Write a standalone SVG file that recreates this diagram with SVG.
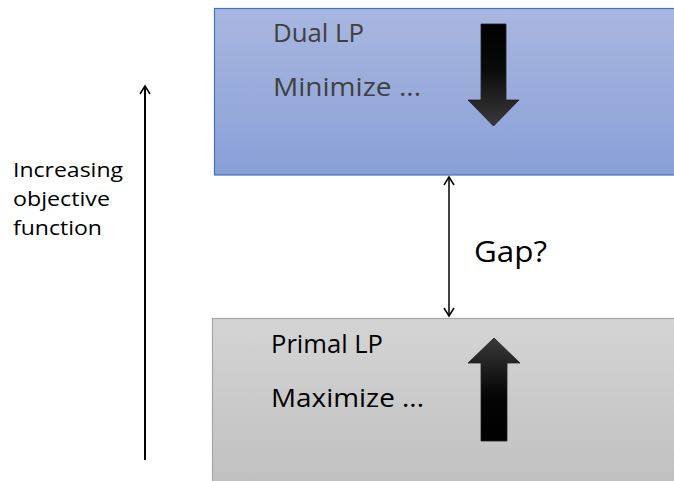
<svg xmlns="http://www.w3.org/2000/svg" width="674" height="481" viewBox="0 0 674 481">
  <defs>
    <linearGradient id="dualFill" x1="0" y1="0" x2="0" y2="1">
      <stop offset="0" stop-color="#a9b7e0"/>
      <stop offset="1" stop-color="#89a0d7"/>
    </linearGradient>
    <linearGradient id="primalFill" x1="0" y1="0" x2="0" y2="1">
      <stop offset="0" stop-color="#d4d4d4"/>
      <stop offset="1" stop-color="#c0c0c0"/>
    </linearGradient>
    <linearGradient id="downFill" x1="0" y1="0" x2="0" y2="1">
      <stop offset="0" stop-color="#000"/>
      <stop offset="0.45" stop-color="#0a0a0a"/>
      <stop offset="1" stop-color="#3a3a3a"/>
    </linearGradient>
    <linearGradient id="upFill" x1="0" y1="0" x2="0" y2="1">
      <stop offset="0" stop-color="#3a3a3a"/>
      <stop offset="0.55" stop-color="#050505"/>
      <stop offset="1" stop-color="#000"/>
    </linearGradient>
    <marker id="openHead" viewBox="0 0 12 12" refX="10" refY="6" markerWidth="12" markerHeight="12" markerUnits="userSpaceOnUse" orient="auto-start-reverse">
      <path d="M2,1 L10,6 L2,11" fill="none" stroke="#000" stroke-width="1.5"/>
    </marker>
  </defs>
  <style>
    .label { font-family: "Open Sans", "Liberation Sans", sans-serif; }
    .dual { fill: #404040; font-size: 26px; }
    .primal { fill: #000; font-size: 26px; }
    .side { fill: #000; font-size: 20px; }
    .gap { fill: #000; font-size: 30px; }
    .conn { stroke: #000; fill: none; }
  </style>

  <!-- Dual LP block -->
  <g id="dual">
    <rect x="214.5" y="8.5" width="470" height="166.5" fill="url(#dualFill)" stroke="#4472c4" stroke-width="1.2"/>
    <text class="label dual" x="273" y="42" textLength="91" lengthAdjust="spacingAndGlyphs">Dual LP</text>
    <text class="label dual" x="273" y="96" textLength="148" lengthAdjust="spacingAndGlyphs">Minimize ...</text>
    <path d="M481,24 H506 V100 H519 L493.5,126 L468,100 H481 Z" fill="url(#downFill)" stroke="#222" stroke-width="0.8"/>
  </g>

  <!-- Primal LP block -->
  <g id="primal">
    <rect x="212.5" y="318.5" width="470" height="170" fill="url(#primalFill)" stroke="#a6a6a6" stroke-width="1.2"/>
    <text class="label primal" x="271" y="353" textLength="112" lengthAdjust="spacingAndGlyphs">Primal LP</text>
    <text class="label primal" x="271" y="407" textLength="153" lengthAdjust="spacingAndGlyphs">Maximize ...</text>
    <path d="M494,338 L520,363 H507 V441 H481 V363 H468 Z" fill="url(#upFill)" stroke="#222" stroke-width="0.8"/>
  </g>

  <!-- Axis caption -->
  <g id="caption">
    <text class="label side" x="13" y="177" textLength="110" lengthAdjust="spacingAndGlyphs">Increasing</text>
    <text class="label side" x="13" y="206" textLength="97" lengthAdjust="spacingAndGlyphs">objective</text>
    <text class="label side" x="13" y="235" textLength="89" lengthAdjust="spacingAndGlyphs">function</text>
  </g>

  <!-- Gap label -->
  <g id="gapLabel">
    <text class="label gap" x="474" y="262" textLength="73" lengthAdjust="spacingAndGlyphs">Gap?</text>
  </g>

  <!-- Connectors -->
  <g id="connectors">
    <line class="conn" x1="145" y1="460" x2="145" y2="86" stroke-width="2" marker-end="url(#openHead)"/>
    <line class="conn" x1="449" y1="177" x2="449" y2="316" stroke-width="1.5" marker-start="url(#openHead)" marker-end="url(#openHead)"/>
  </g>
</svg>
